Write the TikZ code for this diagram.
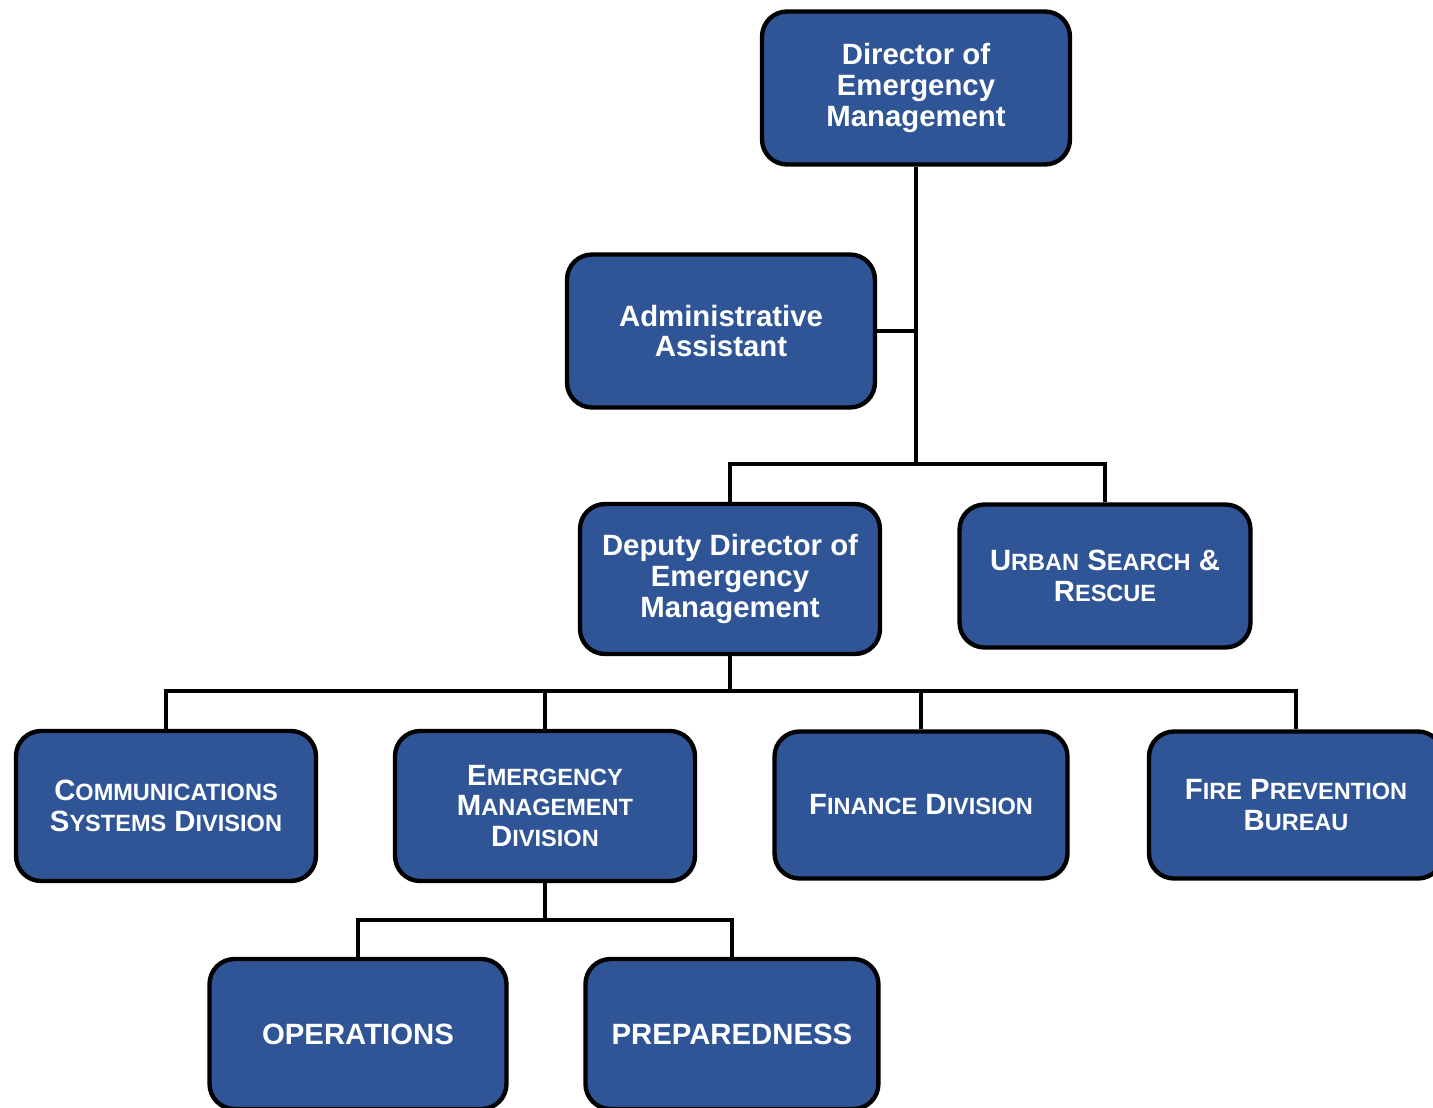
\documentclass[tikz,border=0pt]{standalone}
\usepackage{fontspec}
\setmainfont{Liberation Sans}
\usetikzlibrary{positioning}
\definecolor{boxblue}{HTML}{2F5597}
\newcommand{\smc}[2]{#1{\fontsize{13.4}{17.5}\selectfont #2}}

\begin{document}
\begin{tikzpicture}[x=0.02cm,y=-0.02cm,node distance=7.48cm,
	line width=2.5pt,
	org box/.style = {rectangle, rounded corners=0.5cm, draw=black, fill=boxblue,
		text=white, font=\bfseries\fontsize{16.7}{17.5}\selectfont, align=center,
		minimum width=6cm, minimum height=3cm, inner sep=2pt},
	big box/.style = {org box, minimum width=6.16cm, minimum height=3.06cm}]
	\useasboundingbox (0,0) rectangle (1433,1108);
	\clip (0,0) rectangle (1433,1108);
	
	\node[big box] (dir) at (916,88) {Director of\\Emergency\\Management};
	\node[big box] (admin) at (721,331) {Administrative\\Assistant};
	\node[org box] (deputy) at (730,579) {Deputy Director of\\Emergency\\Management};
	\node[org box, minimum width=5.82cm, minimum height=2.86cm] (usar) at (1105,576) {\smc{U}{RBAN} \smc{S}{EARCH} \&\\\smc{R}{ESCUE}};
	\node[org box] (comms) at (166,806) {\smc{C}{OMMUNICATIONS}\\\smc{S}{YSTEMS} \smc{D}{IVISION}};
	\node[org box] (emd) at (545,806) {\smc{E}{MERGENCY}\\\smc{M}{ANAGEMENT}\\\smc{D}{IVISION}};
	\node[org box, minimum width=5.86cm, minimum height=2.94cm] (fin) at (921,805) {\smc{F}{INANCE} \smc{D}{IVISION}};
	\node[org box, minimum width=5.88cm, minimum height=2.94cm] (fire) at (1296,805) {\smc{F}{IRE} \smc{P}{REVENTION}\\\smc{B}{UREAU}};
	\node[org box, minimum width=5.94cm] (ops) at (358,1034) {OPERATIONS};
	\node[org box, minimum width=5.86cm] (prep) [right of = ops] {PREPAREDNESS};
	
	\coordinate (top bus) at (916,464);
	\coordinate (mid bus) at (730,691);
	\coordinate (low bus) at (545,920);
	
	\draw (dir) -- (top bus);
	\draw (admin.east) -- (admin.east -| dir.south);
	\draw (deputy.north) |- (top bus) -| (usar.north);
	\draw (deputy) -- (mid bus);
	\draw (comms.north) |- (mid bus) -| (fire.north);
	\draw (emd.north) |- (mid bus);
	\draw (fin.north) -- (fin.north |- mid bus);
	\draw (emd) -- (low bus);
	\draw (ops.north) |- (low bus) -| (prep.north);
\end{tikzpicture}
\end{document}
